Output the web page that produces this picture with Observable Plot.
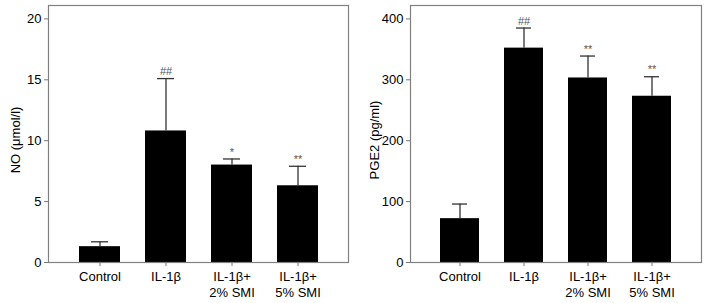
<!DOCTYPE html>
<html>
<head>
<meta charset="utf-8">
<script src="https://cdn.jsdelivr.net/npm/d3@7"></script>
<script src="https://cdn.jsdelivr.net/npm/@observablehq/plot@0.6"></script>
<style>
  html, body { margin: 0; padding: 0; background: #fff; }
  #wrap { display: flex; width: 705px; height: 303px; }
  svg { font-family: "Liberation Sans", Arial, sans-serif; }
  svg [aria-label$="tick"] path, svg .tick line { stroke: #777; }
  svg [aria-label$="tick label"] text, svg .tick text { font-size: 13px; fill: #000; }
</style>
</head>
<body>
<div id="wrap"></div>
<script>
const groups = ["Control", "IL-1β", "IL-1β+\n2% SMI", "IL-1β+\n5% SMI"];
const noMean = [1.3, 10.8, 8.0, 6.3];
const noErr = [0.4, 4.3, 0.5, 1.6];
const noSig = ["", "##", "*", "**"];
const noTicks = [0, 5, 10, 15, 20];
const pgeMean = [72, 352, 303, 273];
const pgeErr = [24, 33, 36, 32];
const pgeSig = ["", "##", "**", "**"];
const pgeTicks = [0, 100, 200, 300, 400];

function panel({mean, err, sig, ticks, yMax, label, width, marginLeft, marginRight, labelDx}) {
  const data = groups.map((g, i) => ({g, m: mean[i], top: mean[i] + err[i], s: sig[i]}));
  return Plot.plot({
    width, height: 303,
    marginLeft, marginRight, marginTop: 5, marginBottom: 41,
    style: {fontFamily: "Liberation Sans, Arial, sans-serif", fontSize: "13px", background: "#fff"},
    x: {domain: groups, paddingInner: 0.386, paddingOuter: 0.435, tickSize: 4, tickFormat: () => "", label: null},
    y: {domain: [0, yMax], ticks, tickSize: 4, tickPadding: 3, label: null},
    marks: [
      Plot.barY(data, {x: "g", y: "m", fill: "#000"}),
      Plot.ruleX(data, {x: "g", y1: "m", y2: "top", stroke: "#333", strokeWidth: 1.3}),
      Plot.tickY(data, {x: "g", y: "top", stroke: "#333", strokeWidth: 1.3, insetLeft: 12, insetRight: 12}),
      Plot.text(data, {x: "g", y: "top", text: "s", dy: -7, fill: "#555", fontSize: 11}),
      Plot.text(groups, {x: d => d, text: d => d, frameAnchor: "bottom", lineAnchor: "top", dy: 6, lineHeight: 1.3, fontSize: 13, fill: "#000"}),
      Plot.text([label], {text: d => d, frameAnchor: "left", rotate: -90, textAnchor: "middle", lineAnchor: "middle", dx: labelDx, dy: 6, fontSize: 13, fill: "#000"}),
      Plot.frame({stroke: "#808080", strokeWidth: 1.2})
    ]
  });
}

const wrap = document.getElementById("wrap");
wrap.appendChild(panel({mean: noMean, err: noErr, sig: noSig, ticks: noTicks, yMax: 21.1, label: "NO (μmol/l)", width: 360, marginLeft: 48, marginRight: 12, labelDx: -33}));
wrap.appendChild(panel({mean: pgeMean, err: pgeErr, sig: pgeSig, ticks: pgeTicks, yMax: 422, label: "PGE2 (pg/ml)", width: 345, marginLeft: 50, marginRight: 4, labelDx: -36}));
</script>
</body>
</html>
